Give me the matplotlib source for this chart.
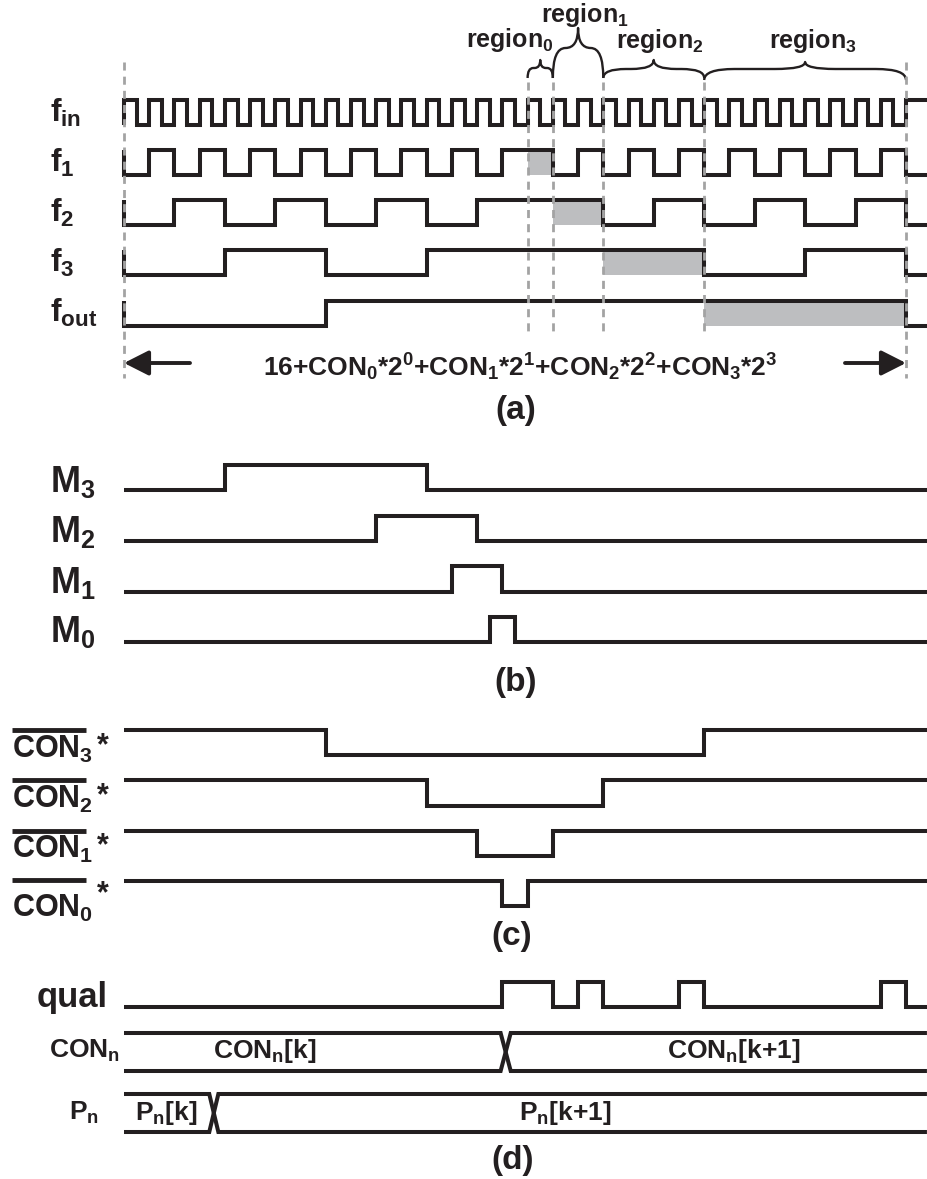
import matplotlib
matplotlib.use('Agg')
import matplotlib.pyplot as plt
from matplotlib.path import Path
from matplotlib.patches import PathPatch, FancyArrowPatch, Rectangle

plt.rcParams['font.family'] = ['Liberation Sans', 'DejaVu Sans']
plt.rcParams['font.weight'] = 'bold'
plt.rcParams['mathtext.fontset'] = 'custom'
for _k in ['rm', 'it', 'bf', 'sf']:
    plt.rcParams['mathtext.' + _k] = 'Liberation Sans:bold'

# ---------------- data (times in units of one f_in period) ----------------
T_TOTAL = 31          # 16 + 1*2^0 + 1*2^1 + 1*2^2 + 1*2^3
T_END = 31.83         # where the drawn traces stop

fin_init = 0
fin_edges = [0, 0.5, 1, 1.5, 2, 2.5, 3, 3.5, 4, 4.5, 5, 5.5, 6, 6.5, 7, 7.5,
             8, 8.5, 9, 9.5, 10, 10.5, 11, 11.5, 12, 12.5, 13, 13.5, 14, 14.5,
             15, 15.5, 16, 16.5, 17, 17.5, 18, 18.5, 19, 19.5, 20, 20.5, 21,
             21.5, 22, 22.5, 23, 23.5, 24, 24.5, 25, 25.5, 26, 26.5, 27, 27.5,
             28, 28.5, 29, 29.5, 30, 30.5, 31]
f1_init = 1
f1_edges = [0, 1, 2, 3, 4, 5, 6, 7, 8, 9, 10, 11, 12, 13, 14, 15,
            17, 18, 19, 20, 21, 22, 23, 24, 25, 26, 27, 28, 29, 30, 31]
f2_init = 1
f2_edges = [0, 2, 4, 6, 8, 10, 12, 14, 19, 21, 23, 25, 27, 29, 31]
f3_init = 1
f3_edges = [0, 4, 8, 12, 23, 27, 31]
fout_init = 1
fout_edges = [0, 8, 31]

# swallowed (extended) intervals, shaded grey
shade_f1 = (16, 17)
shade_f2 = (17, 19)
shade_f3 = (19, 23)
shade_fout = (23, 31)

region_bounds = [0, 16, 17, 19, 23, 31]
region_names = [r'$region_0$', r'$region_1$', r'$region_2$', r'$region_3$']

m3_edges = [4, 12]
m2_edges = [10, 14]
m1_edges = [13, 15]
m0_edges = [14.5, 15.5]

con3b_edges = [8, 23]
con2b_edges = [12, 19]
con1b_edges = [14, 17]
con0b_edges = [15, 16]

qual_edges = [15, 17, 18, 19, 22, 23, 30, 31]
con_cross = 15.13
p_cross = 3.56

formula = r'$16{+}CON_0{*}2^0{+}CON_1{*}2^1{+}CON_2{*}2^2{+}CON_3{*}2^3$'

# ---------------- layout ----------------
W, H = 928, 1179
X0, X31 = 124, 906
PX = (X31 - X0) / T_TOTAL
INK = '#231f20'
GREY_FILL = '#bdbec0'
DASH = '#a3a3a3'
LW = 2.9

fig = plt.figure(figsize=(W / 100, H / 100), dpi=100)
ax = fig.add_axes([0, 0, 1, 1])           # time axis (x in f_in periods)
ax.set_xlim(-X0 / PX, (W - X0) / PX)
ax.set_ylim(H, 0)
ax.axis('off')
axp = fig.add_axes([0, 0, 1, 1])          # pixel overlay for labels
axp.set_xlim(0, W)
axp.set_ylim(H, 0)
axp.axis('off')
axp.patch.set_alpha(0)


def t_of(px):
    return (px - X0) / PX


def wave(edges, init, y_hi, y_lo):
    lvl = init
    yv = lambda l: y_hi if l else y_lo
    xs, ys = [0], [yv(lvl)]
    for e in edges:
        xs.append(e); ys.append(yv(lvl))
        lvl = 1 - lvl
        xs.append(e); ys.append(yv(lvl))
    xs.append(T_END); ys.append(yv(lvl))
    ax.plot(xs, ys, color=INK, lw=LW, solid_joinstyle='miter',
            solid_capstyle='butt', zorder=3)


def shade(iv, y_hi, y_lo):
    ax.add_patch(Rectangle((iv[0], y_hi), iv[1] - iv[0], y_lo - y_hi,
                           facecolor=GREY_FILL, edgecolor='none', zorder=1))


def bus(c, hw, y_t, y_b):
    for a, b in [(y_t, y_b), (y_b, y_t)]:
        ax.plot([0, c - hw, c + hw, T_END], [a, a, b, b], color=INK, lw=LW,
                solid_joinstyle='miter', solid_capstyle='butt', zorder=3)


def brace(x1, x2, yb, ys, yt, qf):
    xm = (x1 + x2) / 2
    q = min(qf * (xm - x1), 1.2)
    verts = [(x1, yb), (x1, ys), (x1 + q, ys), (xm - q, ys), (xm, ys), (xm, yt),
             (xm, ys), (xm + q, ys), (x2 - q, ys), (x2, ys), (x2, yb)]
    codes = [Path.MOVETO, Path.CURVE3, Path.CURVE3, Path.LINETO, Path.CURVE3,
             Path.CURVE3, Path.CURVE3, Path.CURVE3, Path.LINETO, Path.CURVE3,
             Path.CURVE3]
    ax.add_patch(PathPatch(Path(verts, codes), fill=False, edgecolor=INK,
                           lw=1.7, joinstyle='round', zorder=3))


# ---------------- panel (a) ----------------
lv_a = {'fin': (100, 125), 'f1': (150, 175), 'f2': (200, 225),
        'f3': (250, 275), 'fout': (301, 326)}
wave(fin_edges, fin_init, *lv_a['fin'])
wave(f1_edges, f1_init, *lv_a['f1'])
wave(f2_edges, f2_init, *lv_a['f2'])
wave(f3_edges, f3_init, *lv_a['f3'])
wave(fout_edges, fout_init, *lv_a['fout'])
shade(shade_f1, *lv_a['f1'])
shade(shade_f2, *lv_a['f2'])
shade(shade_f3, *lv_a['f3'])
shade(shade_fout, *lv_a['fout'])

dash_style = (0, (2.9, 2.2))
for t in [region_bounds[0], region_bounds[-1]]:
    ax.plot([t, t], [62, 378], color=DASH, lw=2.0, ls=dash_style, zorder=4)
for t in region_bounds[1:-1]:
    ax.plot([t, t], [82, 331], color=DASH, lw=2.0, ls=dash_style, zorder=4)

brace_geo = [(78, 68, 60, 0.45), (78, 48, 28, 0.5), (78, 69, 60, 0.45),
             (80, 69, 62, 0.3)]
for i, (yb, ys, yt, qf) in enumerate(brace_geo):
    brace(region_bounds[i + 1], region_bounds[i + 2], yb, ys, yt, qf)

region_pos = [(466, 47), (541, 22), (616, 48), (769, 48)]
for name, (x, y) in zip(region_names, region_pos):
    axp.text(x, y, name, fontsize=18, ha='left', va='baseline', color=INK)

labels_a = [r'$f_{in}$', r'$f_1$', r'$f_2$', r'$f_3$', r'$f_{out}$']
for lab, y in zip(labels_a, [122, 172, 222, 272, 322]):
    axp.text(50, y, lab, fontsize=23, ha='left', va='baseline', color=INK)

arrow_kw = dict(arrowstyle='-|>,head_length=0.75,head_width=0.38',
                mutation_scale=20, color=INK, lw=2.8, shrinkA=0, shrinkB=0,
                zorder=3)
ax.add_patch(FancyArrowPatch((t_of(190), 363), (0, 363), **arrow_kw))
ax.add_patch(FancyArrowPatch((t_of(845), 363), (T_TOTAL, 363), **arrow_kw))
axp.text(263, 376, formula, fontsize=19, ha='left', va='baseline', color=INK)

# ---------------- panel (b) ----------------
m_levels = [(465, 490), (516, 541), (566, 592), (617, 642)]
for edges, lv in zip([m3_edges, m2_edges, m1_edges, m0_edges], m_levels):
    wave(edges, 0, *lv)
for lab, y in zip([r'$M_3$', r'$M_2$', r'$M_1$', r'$M_0$'], [492, 542, 593, 642]):
    axp.text(50, y, lab, fontsize=26, ha='left', va='baseline', color=INK)

# ---------------- panel (c) ----------------
c_levels = [(730, 755), (780, 806), (831, 856), (881, 906)]
for edges, lv in zip([con3b_edges, con2b_edges, con1b_edges, con0b_edges], c_levels):
    wave(edges, 1, *lv)
c_labels = [r'$CON_3$', r'$CON_2$', r'$CON_1$', r'$CON_0$']
c_base = [758, 808, 858, 917]
c_bar = [730, 780, 831, 880]
c_star = [741, 791, 841, 889]
for lab, yb, ybar, yst in zip(c_labels, c_base, c_bar, c_star):
    axp.text(12, yb, lab, fontsize=22, ha='left', va='baseline', color=INK)
    axp.plot([12, 86], [ybar, ybar], color=INK, lw=3.5, solid_capstyle='butt')
    axp.text(103, yst + 5, '*', fontsize=22, ha='center', va='center', color=INK)

# ---------------- panel (d) ----------------
wave(qual_edges, 0, 982, 1007)
bus(con_cross, 0.2, 1033, 1071)
bus(p_cross, 0.18, 1094, 1132)
axp.text(37, 1007, 'qual', fontsize=25, ha='left', va='baseline', color=INK)
axp.text(49, 1058, r'$CON_n$', fontsize=19, ha='left', va='baseline', color=INK)
axp.text(213, 1058, r'$CON_n[k]$', fontsize=19, ha='left', va='baseline', color=INK)
axp.text(667, 1058, r'$CON_n[k{+}1]$', fontsize=19, ha='left', va='baseline', color=INK)
axp.text(69, 1120, r'$P_n$', fontsize=19, ha='left', va='baseline', color=INK)
axp.text(135, 1120, r'$P_n[k]$', fontsize=19, ha='left', va='baseline', color=INK)
axp.text(519, 1120, r'$P_n[k{+}1]$', fontsize=19, ha='left', va='baseline', color=INK)

for lab, (x, y) in zip(['(a)', '(b)', '(c)', '(d)'],
                       [(516, 410), (516, 683), (512, 936), (513, 1161)]):
    axp.text(x, y, lab, fontsize=24, ha='center', va='center', color=INK)

fig.savefig('out.png', dpi=100)
